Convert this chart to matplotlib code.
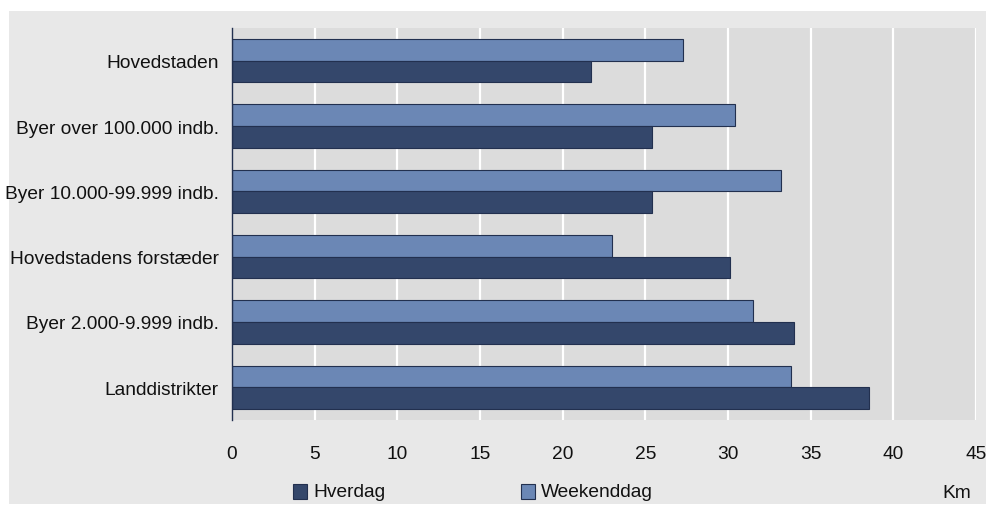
import matplotlib
matplotlib.use("Agg")
import matplotlib.pyplot as plt
from matplotlib.font_manager import FontProperties
from matplotlib.patches import Rectangle
import numpy as np

categories = ["Hovedstaden", "Byer over 100.000 indb.", "Byer 10.000-99.999 indb.",
              "Hovedstadens forstæder", "Byer 2.000-9.999 indb.", "Landdistrikter"]
hverdag = [21.7, 25.4, 25.4, 30.1, 34.0, 38.5]
weekenddag = [27.3, 30.4, 33.2, 23.0, 31.5, 33.8]
series_names = ["Hverdag", "Weekenddag"]
xticks = [0, 5, 10, 15, 20, 25, 30, 35, 40, 45]
unit_label = "Km"

fp = FontProperties(family=["Liberation Sans", "DejaVu Sans"], size=13.8)

W, H = 986, 506
fig = plt.figure(figsize=(W / 100, H / 100), dpi=100, facecolor="white")

# gray panel background
fig.add_artist(Rectangle((9 / W, 1 - 505 / H), 977 / W, 493 / H, transform=fig.transFigure,
                         facecolor="#e8e8e8", edgecolor="none", zorder=0))

ax = fig.add_axes([232 / W, 1 - 421 / H, 744 / W, 392 / H])
ax.set_facecolor("#dcdcdc")

dark = "#34476b"
light = "#6b87b5"
edge = "#22304f"
y = np.arange(len(categories))
h = 1 / 3
ax.barh(y - h / 2, weekenddag, height=h, color=light, edgecolor=edge, linewidth=0.8, zorder=3)
ax.barh(y + h / 2, hverdag, height=h, color=dark, edgecolor=edge, linewidth=0.8, zorder=3)

ax.set_xlim(0, 45)
ax.set_ylim(len(categories) - 0.5, -0.5)
ax.set_xticks(xticks)
ax.set_xticklabels([str(t) for t in xticks], fontproperties=fp, color="#111111")
ax.set_yticks(y)
ax.set_yticklabels(categories, fontproperties=fp, color="#111111")
ax.tick_params(axis="both", length=0)
ax.tick_params(axis="x", pad=18)
ax.tick_params(axis="y", pad=9.5)
for t in xticks[1:]:
    ax.axvline(t, color="white", linewidth=1.6, zorder=1)
for s in ["top", "right", "bottom"]:
    ax.spines[s].set_visible(False)
ax.spines["left"].set_color("#22304f")
ax.spines["left"].set_linewidth(1.0)
ax.spines["left"].set_zorder(4)

# legend (manual, figure pixel coords)
def leg_item(x0, color, text):
    fig.add_artist(Rectangle((x0 / W, 1 - 500 / H), 14 / W, 15 / H, transform=fig.transFigure,
                             facecolor=color, edgecolor=edge, linewidth=0.8, zorder=5))
    fig.text((x0 + 20) / W, 1 - 493 / H, text, fontproperties=fp, color="#111111",
             ha="left", va="center")

leg_item(293, dark, series_names[0])
leg_item(521, light, series_names[1])
fig.text(957 / W, 1 - 494 / H, unit_label, fontproperties=fp, color="#111111",
         ha="center", va="center")

fig.savefig("out.png", dpi=100, facecolor="white")
